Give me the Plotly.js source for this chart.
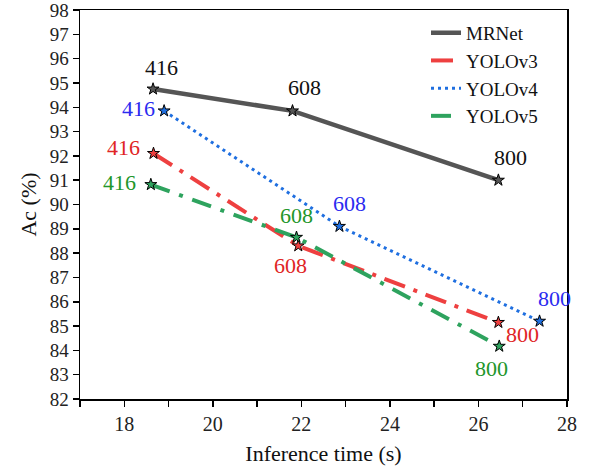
<!DOCTYPE html>
<html><head><meta charset="utf-8">
<script src="https://cdn.plot.ly/plotly-3.0.1.min.js"></script>
<style>body{margin:0;background:#fff}#c{width:590px;height:475px}</style>
</head><body><div id="c"></div>
<script>
const seriesNames = ['MRNet','YOLOv3','YOLOv4','YOLOv5'];
const sizeLabels = ['416','608','800'];
const mrnetX = [18.65, 21.8, 26.45];
const mrnetY = [94.75, 93.85, 91.0];
const yolov3X = [18.66, 21.93, 26.45];
const yolov3Y = [92.1, 88.3, 85.15];
const yolov4X = [18.9, 22.86, 27.38];
const yolov4Y = [93.85, 89.1, 85.2];
const yolov5X = [18.6, 21.89, 26.47];
const yolov5Y = [90.82, 88.65, 84.17];
const xTicks = [17,18,19,20,21,22,23,24,25,26,27,28];
const xTickText = ['','18','','20','','22','','24','','26','','28'];
const yTicks = [82,83,84,85,86,87,88,89,90,91,92,93,94,95,96,97,98];

const lineColors = ['#555555','#ee4040','#1f6fe0','#2ea35e'];
const textColors = ['#111111','#e02525','#2b2bf0','#22962a'];
const dashes = ['solid','22px,9px,4px,9px','3px,4px','20px,10px,4px,10px'];
const widths = [4.5,4,3,4];
const xs = [mrnetX, yolov3X, yolov4X, yolov5X];
const ys = [mrnetY, yolov3Y, yolov4Y, yolov5Y];

const traces = seriesNames.map((n,i)=>({
  x: xs[i], y: ys[i], name: n, type:'scatter', mode:'lines+markers', showlegend:false,
  line:{color:lineColors[i], width:widths[i], dash:dashes[i]},
  marker:{symbol:'star', size:9, color:lineColors[i], line:{color:'#000', width:1}}
}));
// legend entries (line only, like the reference legend)
seriesNames.forEach((n,i)=>{
  traces.push({x:[null], y:[null], name:n, type:'scatter', mode:'lines', showlegend:true,
    line:{color:lineColors[i], width:widths[i], dash:dashes[i]}});
});

const offs = [
  [[8,-22],[12,-23],[12,-23]],
  [[-30,-6],[-8,20],[24,12]],
  [[-26,-2],[10,-23],[15,-23]],
  [[-31,-2],[0,-22],[-8,22]]
];
const annotations = [];
seriesNames.forEach((n,i)=>{
  xs[i].forEach((xv,j)=>{
    annotations.push({x:xv, y:ys[i][j], text:sizeLabels[j], showarrow:true, arrowcolor:'rgba(0,0,0,0)',
      ax:offs[i][j][0], ay:offs[i][j][1], font:{family:'Liberation Serif, serif', size:22, color:textColors[i]}});
  });
});

const layout = {
  width:590, height:475,
  margin:{l:80, r:23, t:10, b:76},
  paper_bgcolor:'#fff', plot_bgcolor:'#fff',
  font:{family:'Liberation Serif, serif', color:'#222', size:19},
  showlegend:true,
  legend:{x:(426-80)/487, y:0.99, xanchor:'left', yanchor:'top', bgcolor:'rgba(0,0,0,0)', font:{size:19, color:'#111'}, tracegroupgap:0},
  xaxis:{range:[17,28], tickvals:xTicks, ticktext:xTickText, ticks:'outside', ticklen:6, tickwidth:1.5, tickcolor:'#000',
    showline:true, linecolor:'#000', linewidth:1.5, mirror:true, showgrid:false, zeroline:false, ticklabeloverflow:'allow',
    tickfont:{size:20, color:'#222'}, title:{text:'Inference time (s)', font:{size:22, color:'#111'}, standoff:12}},
  yaxis:{range:[82,98], tickvals:yTicks, ticks:'outside', ticklen:6, tickwidth:1.5, tickcolor:'#000',
    showline:true, linecolor:'#000', linewidth:1.5, mirror:true, showgrid:false, zeroline:false, ticklabeloverflow:'allow',
    tickfont:{size:19, color:'#222'}, title:{text:'Ac (%)', font:{size:22, color:'#111'}, standoff:7}},
  annotations: annotations
};
Plotly.newPlot('c', traces, layout, {displayModeBar:false, staticPlot:true});
</script></body></html>
